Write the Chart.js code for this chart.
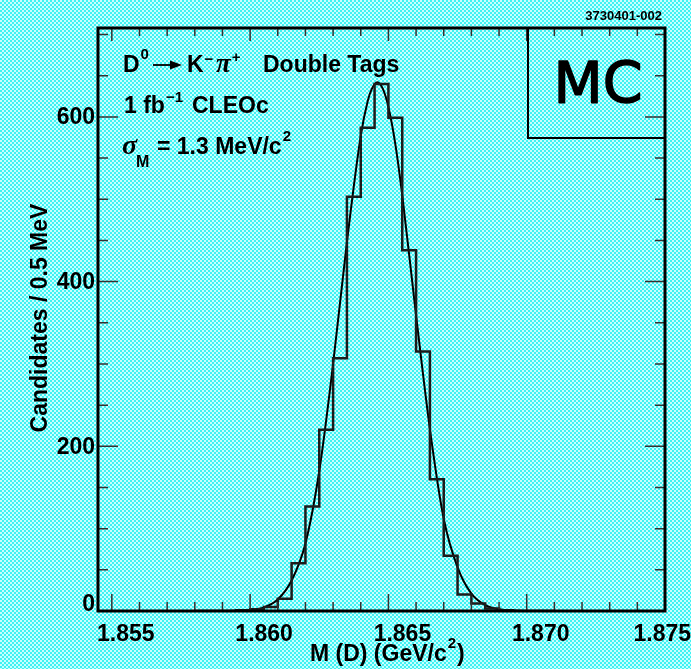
<!DOCTYPE html>
<html>
<head>
<meta charset="utf-8">
<script src="https://cdn.jsdelivr.net/npm/chart.js@4.4.1/dist/chart.umd.min.js"></script>
<style>
html, body { margin: 0; padding: 0; }
body {
    width: 691px; height: 669px; overflow: hidden;
    background: repeating-conic-gradient(#3ef2f2 0 25%, #c6ffff 0 50%) 0 0 / 4px 4px;
}
canvas { display: block; }
</style>
</head>
<body>
<canvas id="massChart" width="691" height="669"></canvas>
<script>
// D0 -> K- pi+ double tags, MC, 0.5 MeV bins
var binLowEdges = [1.8580, 1.8585, 1.8590, 1.8595, 1.8600, 1.8605, 1.8610, 1.8615, 1.8620, 1.8625,
                   1.8630, 1.8635, 1.8640, 1.8645, 1.8650, 1.8655, 1.8660, 1.8665, 1.8670, 1.8675,
                   1.8680, 1.8685, 1.8690, 1.8695, 1.8700, 1.8705];
var binUpperEdge = 1.8710;
var binCounts = [0, 0, 0, 1, 2, 5, 15, 58, 127, 220,
                 307, 503, 587, 640, 599, 438, 315, 160, 67, 20,
                 9, 3, 1, 0, 0, 0];

// fitted curve
var fitMass = [1.8585, 1.8590, 1.8595, 1.8600, 1.8605, 1.8610, 1.8615, 1.8620, 1.8625, 1.8630,
               1.8635, 1.8640, 1.86425, 1.8644, 1.8646, 1.8648, 1.8650, 1.86525, 1.8655, 1.8660,
               1.8665, 1.8670, 1.8675, 1.8680, 1.8685, 1.8690, 1.8695, 1.8700, 1.8705];
var fitValue = [0, 0.1, 0.3, 1.2, 4.4, 14, 37, 82, 170, 300,
                448, 577, 619, 634, 642, 634, 612, 567, 505, 359,
                221, 112, 53, 21, 7, 2, 0.5, 0.1, 0];

// axes
var xMin = 1.8545, xMax = 1.875;
var yMin = 0, yMax = 708;
var xTickValues = [1.855, 1.860, 1.865, 1.870, 1.875];
var xTickLabels = ["1.855", "1.860", "1.865", "1.870", "1.875"];
var yTickValues = [0, 200, 400, 600];
var yTickLabels = ["0", "200", "400", "600"];

var histPoints = binLowEdges.map(function (e, i) { return { x: e, y: binCounts[i] }; });
histPoints.push({ x: binUpperEdge, y: 0 });
var fitPoints = fitMass.map(function (m, i) { return { x: m, y: fitValue[i] }; });

var BOLD = 'bold 23px "Liberation Sans", Arial, sans-serif';

function txt(ctx, s, x, y, font) {
    ctx.font = font;
    ctx.fillText(s, x, y);
    return x + ctx.measureText(s).width;
}

// frame, inside ticks and all the text
var framePlugin = {
    id: 'frame',
    afterDatasetsDraw: function (chart) {
        var ctx = chart.ctx, a = chart.chartArea;
        var xs = chart.scales.x, ys = chart.scales.y;
        ctx.save();
        ctx.strokeStyle = '#333';
        ctx.lineWidth = 1.5;
        ctx.beginPath();
        var v, px, major;
        for (var k = 0; k <= 20; k++) {
            v = 1.855 + k * 0.001;
            px = xs.getPixelForValue(v);
            major = (k % 5 === 0);
            ctx.moveTo(px, a.bottom); ctx.lineTo(px, a.bottom - (major ? 17 : 9));
            ctx.moveTo(px, a.top); ctx.lineTo(px, a.top + (major ? 13 : 8));
        }
        for (var j = 0; j * 50 <= yMax; j++) {
            v = j * 50;
            px = ys.getPixelForValue(v);
            major = (j % 4 === 0);
            ctx.moveTo(a.left, px); ctx.lineTo(a.left + (major ? 20 : 10), px);
            ctx.moveTo(a.right, px); ctx.lineTo(a.right - (major ? 20 : 10), px);
        }
        ctx.stroke();

        // frame
        ctx.strokeStyle = '#000';
        ctx.lineWidth = 3;
        ctx.strokeRect(a.left, a.top, a.right - a.left, a.bottom - a.top);

        // MC box
        ctx.lineWidth = 2;
        ctx.strokeRect(528, a.top, a.right - 528, 110);
        ctx.fillStyle = '#000';
        ctx.textAlign = 'center';
        ctx.textBaseline = 'middle';
        ctx.font = '57px "DejaVu Sans", sans-serif';
        ctx.lineWidth = 1.5;
        ctx.lineJoin = 'round';
        ctx.fillText('MC', 598, 88);
        ctx.strokeText('MC', 598, 88);

        // tick labels
        ctx.lineWidth = 1.8;
        ctx.font = BOLD;
        ctx.textBaseline = 'alphabetic';
        xTickValues.forEach(function (t, i) {
            var w = ctx.measureText(xTickLabels[i]).width;
            var cx = Math.min(xs.getPixelForValue(t) + 14, 691 - w / 2);
            ctx.fillText(xTickLabels[i], cx, 641);
        });
        ctx.textAlign = 'right';
        ctx.textBaseline = 'middle';
        yTickValues.forEach(function (t, i) {
            ctx.fillText(yTickLabels[i], 95, Math.min(ys.getPixelForValue(t) + 1, 605));
        });

        // axis titles
        ctx.save();
        ctx.translate(41, 318);
        ctx.rotate(-Math.PI / 2);
        ctx.textAlign = 'center';
        ctx.fillText('Candidates / 0.5 MeV', 0, 0);
        ctx.restore();

        ctx.textAlign = 'left';
        ctx.textBaseline = 'alphabetic';
        var x = txt(ctx, 'M (D) (GeV/c', 310, 661, BOLD);
        x = txt(ctx, '2', x + 1, 648, 'bold 15px "Liberation Sans", Arial, sans-serif');
        txt(ctx, ')', x + 1, 661, BOLD);

        // id label
        ctx.textAlign = 'right';
        ctx.font = 'bold 13px "Liberation Sans", Arial, sans-serif';
        ctx.fillText('3730401-002', 662, 20);

        // annotation
        ctx.textAlign = 'left';
        var SUP = 'bold 15px "Liberation Sans", Arial, sans-serif';
        var GREEK = 'bold italic 27px "Liberation Serif", serif';
        x = txt(ctx, 'D', 123, 72, BOLD);
        txt(ctx, '0', x + 1, 59, SUP);
        ctx.beginPath(); ctx.moveTo(153, 65); ctx.lineTo(172, 65); ctx.stroke();
        ctx.beginPath(); ctx.moveTo(182, 65); ctx.lineTo(170, 60.5); ctx.lineTo(170, 69.5); ctx.closePath(); ctx.fill();
        x = txt(ctx, 'K', 187, 72, BOLD);
        txt(ctx, '\u2212', x + 1, 64, SUP);
        x = txt(ctx, '\u03c0', 216, 72, GREEK);
        txt(ctx, '+', x + 1, 62, SUP);
        txt(ctx, 'Double Tags', 263, 72, BOLD);

        x = txt(ctx, '1 fb', 124, 113, BOLD);
        txt(ctx, '\u22121', x + 1, 102, SUP);
        txt(ctx, 'CLEOc', 192, 113, BOLD);

        txt(ctx, '\u03c3', 122, 154, 'bold italic 28px "Liberation Serif", serif');
        txt(ctx, 'M', 136, 167, 'bold 16px "Liberation Sans", Arial, sans-serif');
        x = txt(ctx, '= 1.3 MeV/c', 157, 154, BOLD);
        txt(ctx, '2', x + 1, 141, SUP);
        ctx.restore();
    }
};

var ctx = document.getElementById('massChart').getContext('2d');
var massChart = new Chart(ctx, {
    type: 'line',
    data: {
        datasets: [
            {
                label: 'MC double tags',
                data: histPoints,
                stepped: true,
                borderColor: '#1c1c1c',
                borderWidth: 2.5,
                borderJoinStyle: 'miter',
                pointRadius: 0,
                fill: false
            },
            {
                label: 'Fit',
                data: fitPoints,
                borderColor: '#000',
                borderWidth: 2,
                pointRadius: 0,
                cubicInterpolationMode: 'monotone',
                fill: false
            }
        ]
    },
    options: {
        responsive: false,
        animation: false,
        layout: { padding: { left: 98, right: 26, top: 28, bottom: 58 } },
        plugins: { legend: { display: false }, tooltip: { enabled: false } },
        scales: {
            x: { type: 'linear', min: xMin, max: xMax, display: false },
            y: { type: 'linear', min: yMin, max: yMax, display: false }
        }
    },
    plugins: [framePlugin]
});
</script>
</body>
</html>
